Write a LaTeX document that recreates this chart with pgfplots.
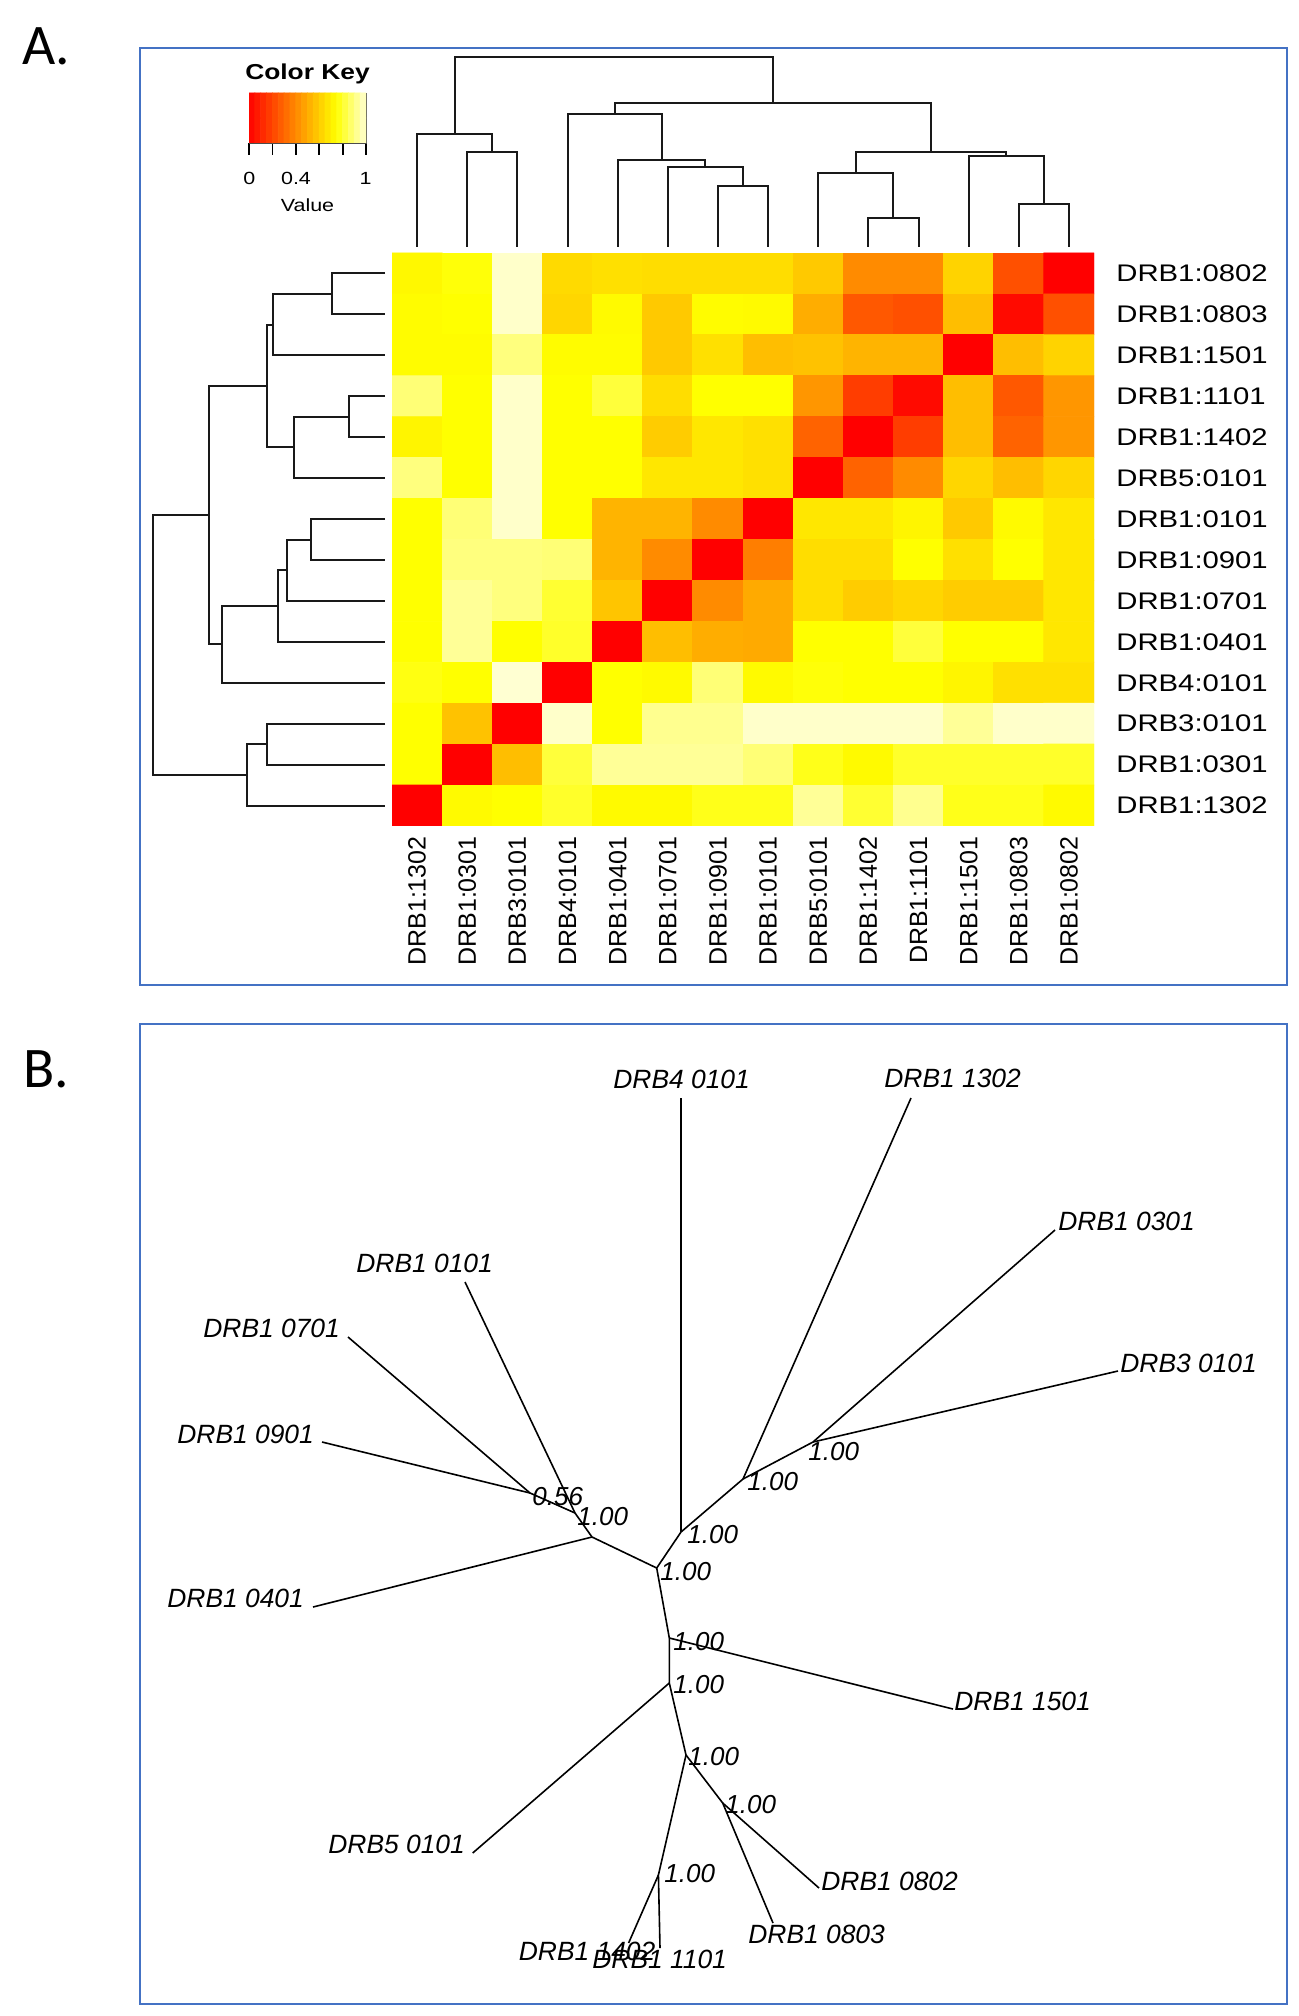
\documentclass[border=0pt]{standalone}
\usepackage{pgfplots}
\pgfplotsset{compat=1.18}
\usepackage{graphicx}
\usepackage{fontspec}
\setmainfont{Liberation Sans}
\newfontfamily\carlito{Carlito}
\definecolor{frameblue}{RGB}{68,114,196}
\pgfplotsset{colormap={heat}{rgb255(0pt)=(255,0,0) rgb255(3pt)=(255,255,0) rgb255(4pt)=(255,255,210)}}
\newcommand{\hs}[1]{\scalebox{1.22}[1]{#1}}
\tikzset{
  dend/.style={black!90, line width=1pt, mark=none},
  tree/.style={black, line width=0.8pt, mark=none},
  rowlab/.style={anchor=west, inner sep=0pt, font=\fontsize{12}{14}\selectfont},
  collab/.style={anchor=east, rotate=90, inner sep=0pt, font=\fontsize{12.5}{14}\selectfont},
  tip/.style={anchor=base west, inner sep=0pt, font=\itshape\fontsize{13.2}{15}\selectfont},
  nl/.style={anchor=base west, inner sep=0pt, font=\itshape\fontsize{13}{15}\selectfont}}
\begin{document}
\begin{tikzpicture}
% ---------- master axis in pixel coordinates ----------
\begin{axis}[at={(0pt,0pt)}, anchor=south west, width=649.5pt, height=1008pt, scale only axis,
  xmin=0, xmax=1299, ymin=0, ymax=2016, y dir=reverse, hide axis, clip=false]
\addplot[draw=none, fill=white] coordinates {(0,0)(1299,0)(1299,2016)(0,2016)(0,0)};
% frames
\addplot[frameblue, line width=1.35pt, line cap=rect, mark=none] coordinates {(140,48)(1287,48)(1287,985)(140,985)(140,48)};
\addplot[frameblue, line width=1.35pt, line cap=rect, mark=none] coordinates {(140,1024)(1287,1024)(1287,2004)(140,2004)(140,1024)};
\node[anchor=base west, inner sep=0pt, font=\carlito\fontsize{28.7}{30}\selectfont] at (axis cs:22,65) {A.};
\node[anchor=base west, inner sep=0pt, font=\carlito\fontsize{28.7}{30}\selectfont] at (axis cs:23,1087) {B.};
% ---------- top dendrogram ----------
\addplot[dend] coordinates {(467.21,247)(467.21,152)(517.36,152)(517.36,247)};
\addplot[dend] coordinates {(417.07,247)(417.07,134)(492.3,134)(492.3,152)};
\addplot[dend] coordinates {(717.93,247)(717.93,186)(768.07,186)(768.07,247)};
\addplot[dend] coordinates {(667.79,247)(667.79,167)(743,167)(743,186)};
\addplot[dend] coordinates {(617.64,247)(617.64,160)(705.4,160)(705.4,167)};
\addplot[dend] coordinates {(567.5,247)(567.5,114)(661.5,114)(661.5,160)};
\addplot[dend] coordinates {(868.36,247)(868.36,217.7)(918.5,217.7)(918.5,247)};
\addplot[dend] coordinates {(818.21,247)(818.21,172.7)(893.4,172.7)(893.4,217.7)};
\addplot[dend] coordinates {(1018.79,247)(1018.79,204)(1068.93,204)(1068.93,247)};
\addplot[dend] coordinates {(968.64,247)(968.64,156)(1043.9,156)(1043.9,204)};
\addplot[dend] coordinates {(855.8,172.7)(855.8,152)(1006.3,152)(1006.3,156)};
\addplot[dend] coordinates {(614.6,114)(614.6,103)(931,103)(931,152)};
\addplot[dend] coordinates {(454.7,134)(454.7,57)(772.8,57)(772.8,103)};
% ---------- left dendrogram ----------
\addplot[dend] coordinates {(385,273.46)(332,273.46)(332,314.39)(385,314.39)};
\addplot[dend] coordinates {(332,293.9)(273,293.9)(273,355.32)(385,355.32)};
\addplot[dend] coordinates {(385,396.25)(349,396.25)(349,437.18)(385,437.18)};
\addplot[dend] coordinates {(349,416.7)(294,416.7)(294,478.11)(385,478.11)};
\addplot[dend] coordinates {(273,324.6)(267,324.6)(267,447.4)(294,447.4)};
\addplot[dend] coordinates {(385,519.04)(310.7,519.04)(310.7,559.96)(385,559.96)};
\addplot[dend] coordinates {(310.7,539.5)(286.7,539.5)(286.7,600.89)(385,600.89)};
\addplot[dend] coordinates {(286.7,570.2)(277.7,570.2)(277.7,641.82)(385,641.82)};
\addplot[dend] coordinates {(277.7,606)(221.7,606)(221.7,682.75)(385,682.75)};
\addplot[dend] coordinates {(267,386)(209,386)(209,644.4)(221.7,644.4)};
\addplot[dend] coordinates {(385,723.68)(267.3,723.68)(267.3,764.61)(385,764.61)};
\addplot[dend] coordinates {(267.3,744.1)(246.7,744.1)(246.7,805.54)(385,805.54)};
\addplot[dend] coordinates {(209,515.2)(152.7,515.2)(152.7,774.8)(246.7,774.8)};
% ---------- row labels ----------
\node[rowlab] at (axis cs:1116,273.46) {\hs{DRB1:0802}};
\node[rowlab] at (axis cs:1116,314.39) {\hs{DRB1:0803}};
\node[rowlab] at (axis cs:1116,355.32) {\hs{DRB1:1501}};
\node[rowlab] at (axis cs:1116,396.25) {\hs{DRB1:1101}};
\node[rowlab] at (axis cs:1116,437.18) {\hs{DRB1:1402}};
\node[rowlab] at (axis cs:1116,478.11) {\hs{DRB5:0101}};
\node[rowlab] at (axis cs:1116,519.04) {\hs{DRB1:0101}};
\node[rowlab] at (axis cs:1116,559.96) {\hs{DRB1:0901}};
\node[rowlab] at (axis cs:1116,600.89) {\hs{DRB1:0701}};
\node[rowlab] at (axis cs:1116,641.82) {\hs{DRB1:0401}};
\node[rowlab] at (axis cs:1116,682.75) {\hs{DRB4:0101}};
\node[rowlab] at (axis cs:1116,723.68) {\hs{DRB3:0101}};
\node[rowlab] at (axis cs:1116,764.61) {\hs{DRB1:0301}};
\node[rowlab] at (axis cs:1116,805.54) {\hs{DRB1:1302}};
% ---------- column labels ----------
\node[collab] at (axis cs:417.07,836) {DRB1:1302};
\node[collab] at (axis cs:467.21,836) {DRB1:0301};
\node[collab] at (axis cs:517.36,836) {DRB3:0101};
\node[collab] at (axis cs:567.5,836) {DRB4:0101};
\node[collab] at (axis cs:617.64,836) {DRB1:0401};
\node[collab] at (axis cs:667.79,836) {DRB1:0701};
\node[collab] at (axis cs:717.93,836) {DRB1:0901};
\node[collab] at (axis cs:768.07,836) {DRB1:0101};
\node[collab] at (axis cs:818.21,836) {DRB5:0101};
\node[collab] at (axis cs:868.36,836) {DRB1:1402};
\node[collab] at (axis cs:918.5,836) {DRB1:1101};
\node[collab] at (axis cs:968.64,836) {DRB1:1501};
\node[collab] at (axis cs:1018.79,836) {DRB1:0803};
\node[collab] at (axis cs:1068.93,836) {DRB1:0802};
% ---------- color key texts ----------
\node[anchor=base, inner sep=0pt, font=\bfseries\fontsize{10.8}{12}\selectfont] at (axis cs:307.5,80) {\hs{Color Key}};
\node[anchor=base, inner sep=0pt, font=\fontsize{8.8}{10}\selectfont] at (axis cs:249.3,185) {\hs{0}};
\node[anchor=base, inner sep=0pt, font=\fontsize{8.8}{10}\selectfont] at (axis cs:296,185) {\hs{0.4}};
\node[anchor=base, inner sep=0pt, font=\fontsize{8.8}{10}\selectfont] at (axis cs:365.5,185) {\hs{1}};
\node[anchor=base, inner sep=0pt, font=\fontsize{8.8}{10}\selectfont] at (axis cs:307.5,212) {\hs{Value}};
% ---------- panel B: unrooted tree ----------
\addplot[tree] coordinates {(681,1098)(681,1532)};
\addplot[tree] coordinates {(911,1098)(743,1479)};
\addplot[tree] coordinates {(1055,1230)(813,1442)};
\addplot[tree] coordinates {(1118,1371)(813,1442)};
\addplot[tree] coordinates {(813,1442)(743,1479)(681,1532)(656.7,1568)};
\addplot[tree] coordinates {(656.7,1568)(592,1537)};
\addplot[tree] coordinates {(592,1537)(313,1607)};
\addplot[tree] coordinates {(592,1537)(575,1513)};
\addplot[tree] coordinates {(575,1513)(465,1282)};
\addplot[tree] coordinates {(575,1513)(530,1493)};
\addplot[tree] coordinates {(530,1493)(348,1337)};
\addplot[tree] coordinates {(530,1493)(322,1442)};
\addplot[tree] coordinates {(656.7,1568)(669.3,1638)(669.3,1683)(686,1755)};
\addplot[tree] coordinates {(669.3,1638)(953,1709)};
\addplot[tree] coordinates {(669.3,1683)(472.7,1853)};
\addplot[tree] coordinates {(686,1755)(722.7,1803)};
\addplot[tree] coordinates {(722.7,1803)(819,1888)};
\addplot[tree] coordinates {(722.7,1803)(773,1923)};
\addplot[tree] coordinates {(686,1755)(658.4,1875)};
\addplot[tree] coordinates {(658.4,1875)(628.6,1943)};
\addplot[tree] coordinates {(658.4,1875)(660,1948)};
% tip labels
\node[tip] at (axis cs:613,1088) {DRB4 0101};
\node[tip] at (axis cs:884,1087) {DRB1 1302};
\node[tip] at (axis cs:1058,1230) {DRB1 0301};
\node[tip] at (axis cs:1120,1372) {DRB3 0101};
\node[tip] at (axis cs:356,1272) {DRB1 0101};
\node[tip] at (axis cs:203,1337) {DRB1 0701};
\node[tip] at (axis cs:177,1443) {DRB1 0901};
\node[tip] at (axis cs:167,1607) {DRB1 0401};
\node[tip] at (axis cs:954,1710) {DRB1 1501};
\node[tip] at (axis cs:328,1853) {DRB5 0101};
\node[tip] at (axis cs:821,1890) {DRB1 0802};
\node[tip] at (axis cs:748,1943) {DRB1 0803};
\node[tip] at (axis cs:518.5,1960) {DRB1 1402};
\node[tip] at (axis cs:592,1968) {DRB1 1101};
% node labels
\node[nl] at (axis cs:808,1460) {1.00};
\node[nl] at (axis cs:747,1490) {1.00};
\node[nl] at (axis cs:687,1543) {1.00};
\node[nl] at (axis cs:660,1580) {1.00};
\node[nl] at (axis cs:673,1650) {1.00};
\node[nl] at (axis cs:673,1693) {1.00};
\node[nl] at (axis cs:688,1765) {1.00};
\node[nl] at (axis cs:725,1813) {1.00};
\node[nl] at (axis cs:664,1882) {1.00};
\node[nl] at (axis cs:532,1505) {0.56};
\node[nl] at (axis cs:577,1525) {1.00};
\end{axis}
% ---------- heatmap ----------
\begin{axis}[at={(196pt,595pt)}, anchor=south west, width=351pt, height=286.5pt, scale only axis,
  xmin=-0.5, xmax=13.5, ymin=-0.5, ymax=13.5, y dir=reverse, hide axis,
  colormap name=heat, point meta min=0, point meta max=1]
\addplot[matrix plot*, mesh/cols=14, point meta=explicit] coordinates {
(0,0)[0.73] (1,0)[0.76] (2,0)[0.99] (3,0)[0.64] (4,0)[0.66] (5,0)[0.65] (6,0)[0.65] (7,0)[0.65] (8,0)[0.59] (9,0)[0.41] (10,0)[0.41] (11,0)[0.62] (12,0)[0.235] (13,0)[0.0]
(0,1)[0.74] (1,1)[0.75] (2,1)[0.99] (3,1)[0.63] (4,1)[0.735] (5,1)[0.59] (6,1)[0.74] (7,1)[0.735] (8,1)[0.51] (9,1)[0.26] (10,1)[0.235] (11,1)[0.56] (12,1)[0.03] (13,1)[0.235]
(0,2)[0.74] (1,2)[0.74] (2,2)[0.90] (3,2)[0.74] (4,2)[0.74] (5,2)[0.59] (6,2)[0.66] (7,2)[0.56] (8,2)[0.57] (9,2)[0.53] (10,2)[0.53] (11,2)[0.0] (12,2)[0.56] (13,2)[0.62]
(0,3)[0.89] (1,3)[0.75] (2,3)[0.99] (3,3)[0.75] (4,3)[0.82] (5,3)[0.65] (6,3)[0.75] (7,3)[0.75] (8,3)[0.44] (9,3)[0.18] (10,3)[0.03] (11,3)[0.56] (12,3)[0.26] (13,3)[0.44]
(0,4)[0.72] (1,4)[0.75] (2,4)[0.99] (3,4)[0.75] (4,4)[0.75] (5,4)[0.60] (6,4)[0.68] (7,4)[0.66] (8,4)[0.29] (9,4)[0.0] (10,4)[0.18] (11,4)[0.56] (12,4)[0.29] (13,4)[0.44]
(0,5)[0.90] (1,5)[0.75] (2,5)[0.99] (3,5)[0.75] (4,5)[0.75] (5,5)[0.68] (6,5)[0.68] (7,5)[0.66] (8,5)[0.0] (9,5)[0.29] (10,5)[0.41] (11,5)[0.63] (12,5)[0.56] (13,5)[0.63]
(0,6)[0.75] (1,6)[0.89] (2,6)[0.99] (3,6)[0.75] (4,6)[0.53] (5,6)[0.53] (6,6)[0.41] (7,6)[0.0] (8,6)[0.68] (9,6)[0.68] (10,6)[0.72] (11,6)[0.59] (12,6)[0.735] (13,6)[0.68]
(0,7)[0.75] (1,7)[0.90] (2,7)[0.90] (3,7)[0.89] (4,7)[0.53] (5,7)[0.41] (6,7)[0.0] (7,7)[0.37] (8,7)[0.65] (9,7)[0.65] (10,7)[0.75] (11,7)[0.66] (12,7)[0.75] (13,7)[0.68]
(0,8)[0.75] (1,8)[0.93] (2,8)[0.90] (3,8)[0.81] (4,8)[0.58] (5,8)[0.0] (6,8)[0.41] (7,8)[0.50] (8,8)[0.65] (9,8)[0.60] (10,8)[0.63] (11,8)[0.60] (12,8)[0.60] (13,8)[0.68]
(0,9)[0.75] (1,9)[0.93] (2,9)[0.75] (3,9)[0.80] (4,9)[0.0] (5,9)[0.56] (6,9)[0.51] (7,9)[0.50] (8,9)[0.75] (9,9)[0.75] (10,9)[0.82] (11,9)[0.75] (12,9)[0.75] (13,9)[0.68]
(0,10)[0.77] (1,10)[0.75] (2,10)[1.0] (3,10)[0.0] (4,10)[0.75] (5,10)[0.735] (6,10)[0.89] (7,10)[0.735] (8,10)[0.76] (9,10)[0.75] (10,10)[0.75] (11,10)[0.72] (12,10)[0.66] (13,10)[0.66]
(0,11)[0.75] (1,11)[0.57] (2,11)[0.0] (3,11)[0.99] (4,11)[0.75] (5,11)[0.92] (6,11)[0.92] (7,11)[0.99] (8,11)[0.99] (9,11)[0.99] (10,11)[0.99] (11,11)[0.93] (12,11)[0.99] (13,11)[0.99]
(0,12)[0.75] (1,12)[0.0] (2,12)[0.56] (3,12)[0.82] (4,12)[0.93] (5,12)[0.93] (6,12)[0.93] (7,12)[0.89] (8,12)[0.78] (9,12)[0.735] (10,12)[0.80] (11,12)[0.80] (12,12)[0.80] (13,12)[0.80]
(0,13)[0.0] (1,13)[0.735] (2,13)[0.75] (3,13)[0.80] (4,13)[0.735] (5,13)[0.735] (6,13)[0.78] (7,13)[0.78] (8,13)[0.93] (9,13)[0.81] (10,13)[0.92] (11,13)[0.78] (12,13)[0.78] (13,13)[0.735]
};
\end{axis}
% ---------- color key ----------
\begin{axis}[at={(124.5pt,936.5pt)}, anchor=south west, width=58.5pt, height=25pt, scale only axis,
  xmin=0, xmax=1, ymin=-0.5, ymax=1.5, xtick={0,0.2,0.4,0.6,0.8,1}, xticklabels={,,}, ytick=\empty,
  xtick align=outside, xtick pos=left, major tick length=6pt, tick style={black, line width=0.9pt},
  axis line style={black!70, line width=0.4pt}, colormap name=heat, point meta min=0, point meta max=1]
\addplot[matrix plot*, mesh/cols=20, point meta=explicit] coordinates {
(0.025,0)[0.025] (0.075,0)[0.075] (0.125,0)[0.125] (0.175,0)[0.175] (0.225,0)[0.225] (0.275,0)[0.275] (0.325,0)[0.325] (0.375,0)[0.375] (0.425,0)[0.425] (0.475,0)[0.475] (0.525,0)[0.525] (0.575,0)[0.575] (0.625,0)[0.625] (0.675,0)[0.675] (0.725,0)[0.725] (0.775,0)[0.775] (0.825,0)[0.825] (0.875,0)[0.875] (0.925,0)[0.925] (0.975,0)[0.975]
(0.025,1)[0.025] (0.075,1)[0.075] (0.125,1)[0.125] (0.175,1)[0.175] (0.225,1)[0.225] (0.275,1)[0.275] (0.325,1)[0.325] (0.375,1)[0.375] (0.425,1)[0.425] (0.475,1)[0.475] (0.525,1)[0.525] (0.575,1)[0.575] (0.625,1)[0.625] (0.675,1)[0.675] (0.725,1)[0.725] (0.775,1)[0.775] (0.825,1)[0.825] (0.875,1)[0.875] (0.925,1)[0.925] (0.975,1)[0.975]
};
\end{axis}
\end{tikzpicture}
\end{document}
